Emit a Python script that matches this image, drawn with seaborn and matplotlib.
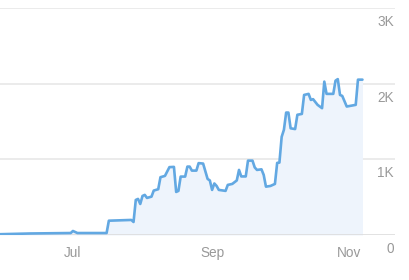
import matplotlib
matplotlib.use("Agg")
import matplotlib.pyplot as plt
import matplotlib.transforms as mtransforms
import seaborn as sns
import pandas as pd

dates = ["2023-05-29", "2023-06-12", "2023-06-30", "2023-07-01", "2023-07-03",
         "2023-07-16", "2023-07-17", "2023-07-27", "2023-07-28", "2023-07-29",
         "2023-07-30", "2023-07-31", "2023-08-01", "2023-08-02", "2023-08-03",
         "2023-08-05", "2023-08-06", "2023-08-08", "2023-08-09", "2023-08-11",
         "2023-08-13", "2023-08-15", "2023-08-16", "2023-08-17", "2023-08-18",
         "2023-08-20", "2023-08-21", "2023-08-22", "2023-08-23", "2023-08-25",
         "2023-08-26", "2023-08-28", "2023-08-30", "2023-08-31", "2023-09-01",
         "2023-09-02", "2023-09-03", "2023-09-04", "2023-09-07", "2023-09-08",
         "2023-09-10", "2023-09-12", "2023-09-13", "2023-09-14", "2023-09-16",
         "2023-09-17", "2023-09-19", "2023-09-20", "2023-09-21", "2023-09-23",
         "2023-09-24", "2023-09-25", "2023-09-27", "2023-09-29", "2023-09-30",
         "2023-10-01", "2023-10-02", "2023-10-03", "2023-10-04", "2023-10-05",
         "2023-10-06", "2023-10-08", "2023-10-09", "2023-10-11", "2023-10-12",
         "2023-10-14", "2023-10-15", "2023-10-16", "2023-10-18", "2023-10-19",
         "2023-10-20", "2023-10-21", "2023-10-22", "2023-10-25", "2023-10-26",
         "2023-10-27", "2023-10-28", "2023-10-29", "2023-10-31", "2023-11-04",
         "2023-11-05", "2023-11-07"]
values = [10, 20, 26, 53, 26,
          26, 189, 199, 172, 463,
          477, 410, 516, 530, 490,
          507, 587, 605, 764, 781,
          897, 900, 569, 583, 772,
          772, 904, 904, 851, 851,
          950, 944, 741, 721, 596,
          681, 649, 596, 583, 662,
          675, 721, 860, 774, 774,
          983, 983, 893, 860, 868,
          794, 639, 648, 675, 953,
          957, 1297, 1390, 1618, 1618,
          1410, 1400, 1589, 1600, 1851,
          1865, 1785, 1795, 1720, 1698,
          1676, 2027, 1865, 1865, 2040,
          2060, 1851, 1838, 1698, 1720,
          2053, 2053]

y_ticks = [0, 1000, 2000, 3000]
y_tick_labels = ["0", "1K", "2K", "3K"]
x_ticks = ["2023-07-01", "2023-09-01", "2023-11-01"]
x_tick_labels = ["Jul", "Sep", "Nov"]

df = pd.DataFrame({"date": pd.to_datetime(dates), "value": values})

sns.set_style("white")
plt.rcParams["font.family"] = ["Liberation Sans", "DejaVu Sans"]

line_color = "#62a8e2"
fill_color = "#eef4fc"
grid_color = "#e8e8e8"
text_color = "#999999"

fig = plt.figure(figsize=(4.1, 2.8), dpi=100)
ax = fig.add_axes([0, 45 / 280, 395 / 410, 227 / 280])

ax.fill_between(df["date"], df["value"], 0, color=fill_color, linewidth=0, zorder=1)
sns.lineplot(data=df, x="date", y="value", ax=ax, color=line_color, linewidth=1.9, zorder=3)

jul1 = pd.Timestamp("2023-07-01")
ax.set_xlim(jul1 - pd.Timedelta(days=32.5), jul1 + pd.Timedelta(days=143.5))
ax.set_ylim(0, 3000)

for s in ax.spines.values():
    s.set_visible(False)

for v in y_ticks:
    ax.axhline(v, color=grid_color if v else "#dddddd", linewidth=1.2, zorder=0 if v else 2)

ax.set_yticks([])
ax.set_xticks(pd.to_datetime(x_ticks))
ax.set_xticklabels(x_tick_labels)
ax.tick_params(axis="x", direction="in", length=6, width=1, color="#dddddd",
               labelsize=9.8, labelcolor=text_color, pad=8)
ax.set_xlabel("")
ax.set_ylabel("")

offset = mtransforms.ScaledTranslation(-1 / 100, -14 / 100, fig.dpi_scale_trans)
trans = mtransforms.blended_transform_factory(ax.transAxes, ax.transData) + offset
for v, lab in zip(y_ticks, y_tick_labels):
    ax.text(1.0, v, lab, transform=trans, ha="right", va="center",
            fontsize=9.8, color=text_color)

fig.savefig("out.png", dpi=100)
